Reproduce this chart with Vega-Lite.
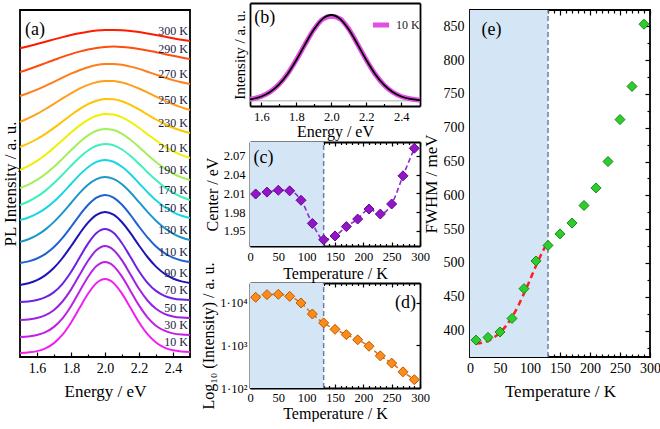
{
  "$schema": "https://vega.github.io/schema/vega-lite/v6.json",
  "autosize": {"type": "pad"},
  "padding": {"left": 0, "top": 3, "right": 0, "bottom": 0},
  "background": "white",
  "bounds": "flush",
  "spacing": 55,
  "config": {
    "font": "Liberation Serif",
    "view": {"stroke": null},
    "axis": {"labelFont": "Liberation Serif", "titleFont": "Liberation Serif", "labelColor": "black", "titleColor": "black", "titleFontWeight": "normal", "grid": false, "domain": false, "domainColor": "black", "domainWidth": 1.8, "tickColor": "black", "tickWidth": 1.2, "labelFontSize": 13, "titleFontSize": 17, "labelOverlap": false, "labelFlush": false, "labelBound": false},
    "text": {"font": "Liberation Serif", "color": "black"},
    "legend": {"labelFont": "Liberation Serif"}
  },
  "datasets": {
    "spectra": [
      {"e":1.5,"10 K":4.0,"30 K":20.0,"50 K":37.0,"70 K":55.0,"90 K":72.0,"110 K":94.0,"130 K":115.0,"150 K":137.0,"170 K":152.0,"190 K":169.0,"210 K":187.0,"230 K":210.0,"250 K":235.0,"270 K":261.0,"290 K":285.0,"300 K":308.7},
      {"e":1.55,"10 K":4.6,"30 K":20.6,"50 K":37.6,"70 K":55.6,"90 K":73.8,"110 K":95.6,"130 K":117.7,"150 K":139.5,"170 K":155.5,"190 K":172.4,"210 K":191.1,"230 K":213.6,"250 K":238.8,"270 K":264.0,"290 K":287.8,"300 K":310.8},
      {"e":1.6,"10 K":5.9,"30 K":22.0,"50 K":39.0,"70 K":57.0,"90 K":76.9,"110 K":98.5,"130 K":121.8,"150 K":143.3,"170 K":160.3,"190 K":177.1,"210 K":196.2,"230 K":218.0,"250 K":243.1,"270 K":267.3,"290 K":290.8,"300 K":313.0},
      {"e":1.65,"10 K":8.7,"30 K":24.9,"50 K":41.8,"70 K":59.8,"90 K":81.9,"110 K":103.1,"130 K":127.6,"150 K":148.6,"170 K":166.4,"190 K":183.0,"210 K":202.3,"230 K":223.2,"250 K":248.0,"270 K":271.1,"290 K":293.9,"300 K":315.3},
      {"e":1.7,"10 K":13.9,"30 K":30.1,"50 K":47.0,"70 K":64.9,"90 K":89.2,"110 K":109.9,"130 K":135.1,"150 K":155.5,"170 K":173.9,"190 K":190.2,"210 K":209.3,"230 K":229.1,"250 K":253.2,"270 K":275.2,"290 K":297.0,"300 K":317.6},
      {"e":1.75,"10 K":22.3,"30 K":38.7,"50 K":55.5,"70 K":73.2,"90 K":99.0,"110 K":119.1,"130 K":144.1,"150 K":163.9,"170 K":182.3,"190 K":198.3,"210 K":216.8,"230 K":235.5,"250 K":258.6,"270 K":279.3,"290 K":300.1,"300 K":319.9},
      {"e":1.8,"10 K":34.3,"30 K":50.8,"50 K":67.4,"70 K":85.0,"90 K":110.7,"110 K":130.0,"130 K":154.0,"150 K":173.0,"170 K":191.2,"190 K":206.8,"210 K":224.4,"230 K":242.0,"250 K":263.7,"270 K":283.3,"290 K":302.9,"300 K":322.0},
      {"e":1.85,"10 K":48.9,"30 K":65.5,"50 K":81.9,"70 K":99.3,"90 K":123.2,"110 K":141.7,"130 K":163.9,"150 K":182.1,"170 K":199.5,"190 K":214.8,"210 K":231.4,"230 K":247.9,"250 K":268.3,"270 K":286.8,"290 K":305.4,"300 K":323.8},
      {"e":1.9,"10 K":63.2,"30 K":80.0,"50 K":96.2,"70 K":113.4,"90 K":134.3,"110 K":152.0,"130 K":172.3,"150 K":189.8,"170 K":206.5,"190 K":221.6,"210 K":237.2,"230 K":252.9,"250 K":272.1,"270 K":289.8,"290 K":307.5,"300 K":325.3},
      {"e":1.95,"10 K":74.0,"30 K":90.9,"50 K":106.9,"70 K":124.0,"90 K":142.1,"110 K":159.3,"130 K":177.9,"150 K":195.1,"170 K":211.2,"190 K":226.2,"210 K":241.2,"230 K":256.3,"250 K":274.7,"270 K":291.9,"290 K":309.1,"300 K":326.4},
      {"e":2.0,"10 K":78.0,"30 K":95.0,"50 K":111.0,"70 K":128.0,"90 K":145.0,"110 K":162.0,"130 K":180.0,"150 K":197.0,"170 K":213.0,"190 K":228.0,"210 K":243.0,"230 K":258.0,"250 K":276.0,"270 K":293.0,"290 K":310.0,"300 K":327.0},
      {"e":2.05,"10 K":74.1,"30 K":91.1,"50 K":107.1,"70 K":124.2,"90 K":142.3,"110 K":159.4,"130 K":178.1,"150 K":195.3,"170 K":211.7,"190 K":227.0,"210 K":242.4,"230 K":257.7,"250 K":275.9,"270 K":293.1,"290 K":310.4,"300 K":327.1},
      {"e":2.1,"10 K":63.4,"30 K":80.4,"50 K":96.6,"70 K":113.8,"90 K":134.7,"110 K":152.2,"130 K":172.7,"150 K":190.2,"170 K":207.5,"190 K":223.2,"210 K":239.6,"230 K":255.7,"250 K":274.5,"270 K":292.2,"290 K":310.1,"300 K":326.8},
      {"e":2.15,"10 K":49.2,"30 K":66.1,"50 K":82.5,"70 K":99.9,"90 K":123.8,"110 K":142.0,"130 K":164.5,"150 K":182.7,"170 K":201.0,"190 K":217.2,"210 K":235.0,"230 K":252.1,"250 K":271.9,"270 K":290.4,"290 K":309.3,"300 K":326.0},
      {"e":2.2,"10 K":34.7,"30 K":51.6,"50 K":68.2,"70 K":85.8,"90 K":111.5,"110 K":130.4,"130 K":154.8,"150 K":173.8,"170 K":193.2,"190 K":210.0,"210 K":229.2,"230 K":247.6,"250 K":268.5,"270 K":288.1,"290 K":308.1,"300 K":324.9},
      {"e":2.25,"10 K":22.8,"30 K":39.7,"50 K":56.5,"70 K":74.2,"90 K":100.0,"110 K":119.6,"130 K":145.1,"150 K":164.9,"170 K":184.8,"190 K":202.3,"210 K":222.8,"230 K":242.5,"250 K":264.6,"270 K":285.3,"290 K":306.6,"300 K":323.5},
      {"e":2.3,"10 K":14.5,"30 K":31.3,"50 K":48.2,"70 K":66.1,"90 K":90.4,"110 K":110.5,"130 K":136.3,"150 K":156.7,"170 K":176.9,"190 K":195.0,"210 K":216.5,"230 K":237.5,"250 K":260.4,"270 K":282.4,"290 K":304.8,"300 K":322.0},
      {"e":2.35,"10 K":9.4,"30 K":26.3,"50 K":43.2,"70 K":61.2,"90 K":83.3,"110 K":103.8,"130 K":129.0,"150 K":150.0,"170 K":169.9,"190 K":188.6,"210 K":210.7,"230 K":233.0,"250 K":256.4,"270 K":279.5,"290 K":303.0,"300 K":320.4},
      {"e":2.4,"10 K":6.7,"30 K":23.6,"50 K":40.6,"70 K":58.6,"90 K":78.5,"110 K":99.3,"130 K":123.4,"150 K":144.9,"170 K":164.3,"190 K":183.5,"210 K":205.8,"230 K":229.2,"250 K":252.7,"270 K":276.9,"290 K":301.2,"300 K":318.8},
      {"e":2.45,"10 K":5.5,"30 K":22.4,"50 K":39.4,"70 K":57.4,"90 K":75.6,"110 K":96.5,"130 K":119.5,"150 K":141.3,"170 K":160.0,"190 K":179.6,"210 K":201.9,"230 K":226.2,"250 K":249.6,"270 K":274.8,"290 K":299.5,"300 K":317.3},
      {"e":2.5,"10 K":5.0,"30 K":22.0,"50 K":39.0,"70 K":57.0,"90 K":74.0,"110 K":95.0,"130 K":117.0,"150 K":139.0,"170 K":157.0,"190 K":177.0,"210 K":199.0,"230 K":224.0,"250 K":247.0,"270 K":273.0,"290 K":298.0,"300 K":316.0}
    ],
    "b": [
      {"e":1.535,"f":0.018,"d":0.02},
      {"e":1.55,"f":0.023,"d":0.025},
      {"e":1.6,"f":0.051,"d":0.053},
      {"e":1.65,"f":0.103,"d":0.105},
      {"e":1.7,"f":0.188,"d":0.19},
      {"e":1.75,"f":0.313,"d":0.315},
      {"e":1.8,"f":0.475,"d":0.478},
      {"e":1.85,"f":0.658,"d":0.66},
      {"e":1.9,"f":0.83,"d":0.83},
      {"e":1.95,"f":0.955,"d":0.95},
      {"e":2.0,"f":1.0,"d":0.985},
      {"e":2.05,"f":0.955,"d":0.955},
      {"e":2.1,"f":0.83,"d":0.835},
      {"e":2.15,"f":0.658,"d":0.66},
      {"e":2.2,"f":0.475,"d":0.476},
      {"e":2.25,"f":0.313,"d":0.313},
      {"e":2.3,"f":0.188,"d":0.188},
      {"e":2.35,"f":0.103,"d":0.103},
      {"e":2.4,"f":0.051,"d":0.051},
      {"e":2.45,"f":0.023,"d":0.024},
      {"e":2.5,"f":0.0096,"d":0.01},
      {"e":2.507,"f":0.0084,"d":0.009}
    ],
    "temp": [
      {"T":10,"center":2.009,"intensity":13600,"fwhm":386},
      {"T":30,"center":2.012,"intensity":15700,"fwhm":390},
      {"T":50,"center":2.015,"intensity":16000,"fwhm":398},
      {"T":70,"center":2.014,"intensity":14300,"fwhm":418},
      {"T":90,"center":1.999,"intensity":10000,"fwhm":462},
      {"T":110,"center":1.962,"intensity":5500,"fwhm":503},
      {"T":130,"center":1.936,"intensity":3400,"fwhm":526},
      {"T":150,"center":1.942,"intensity":2400,"fwhm":543},
      {"T":170,"center":1.957,"intensity":1800,"fwhm":559},
      {"T":190,"center":1.969,"intensity":1360,"fwhm":585},
      {"T":210,"center":1.985,"intensity":960,"fwhm":611},
      {"T":230,"center":1.977,"intensity":570,"fwhm":650},
      {"T":250,"center":1.993,"intensity":385,"fwhm":712},
      {"T":270,"center":2.038,"intensity":240,"fwhm":761},
      {"T":290,"center":2.082,"intensity":157,"fwhm":853}
    ],
    "fit": [
      {"T":10,"fit":381},{"T":20,"fit":382},{"T":30,"fit":385},{"T":40,"fit":390},{"T":50,"fit":397},{"T":60,"fit":407},{"T":70,"fit":420},{"T":80,"fit":436},{"T":90,"fit":455},{"T":100,"fit":475},{"T":110,"fit":496},{"T":120,"fit":515},{"T":130,"fit":532}
    ]
  },
  "hconcat": [
    {
      "width": 170, "height": 347,
      "view": {"stroke": "black", "strokeWidth": 1.8},
      "layer": [
        {
          "data": {"name": "spectra"},
          "transform": [{"fold": ["10 K","30 K","50 K","70 K","90 K","110 K","130 K","150 K","170 K","190 K","210 K","230 K","250 K","270 K","290 K","300 K"], "as": ["T","v"]}],
          "mark": {"type": "line", "strokeWidth": 2, "interpolate": "monotone"},
          "encoding": {
            "x": {"field": "e", "type": "quantitative", "scale": {"domain": [1.5,2.5], "nice": false, "zero": false},
                  "axis": {"orient": "bottom", "values": [1.6,1.8,2.0,2.2,2.4], "format": ".1f", "tickSize": -5, "labelPadding": 9, "labelFontSize": 14, "title": "Energy / eV", "titlePadding": 8, "titleFontSize": 17}},
            "y": {"field": "v", "type": "quantitative", "scale": {"domain": [0,347], "nice": false, "zero": false},
                  "axis": {"orient": "left", "labels": false, "ticks": false, "title": "PL Intensity / a. u.", "titlePadding": 1, "titleFontSize": 17}},
            "color": {"field": "T", "type": "nominal", "scale": {"domain": ["10 K","30 K","50 K","70 K","90 K","110 K","130 K","150 K","170 K","190 K","210 K","230 K","250 K","270 K","290 K","300 K"], "range": ["#f21ff2","#c21fe6","#9a22e0","#6c22e2","#1c14b8","#1f62d2","#1b97c9","#18d6e2","#3ff0bd","#a2ef5a","#eef000","#ffc400","#ffa01c","#ff7d1a","#ff4d0f","#ff1a00"]}, "legend": null}
          }
        },
        {
          "data": {"name": "spectra"},
          "transform": [{"fold": ["10 K","30 K","50 K","70 K","90 K","110 K","130 K","150 K","170 K","190 K","210 K","230 K","250 K","270 K","290 K","300 K"], "as": ["T","v"]}, {"filter": "datum.e == 2.5"}],
          "mark": {"type": "text", "align": "right", "baseline": "middle", "dx": -2, "dy": -10, "fontSize": 12, "color": "#1a1a40"},
          "encoding": {
            "x": {"field": "e", "type": "quantitative", "scale": {"domain": [1.5,2.5], "nice": false, "zero": false},
                  "axis": {"orient": "bottom", "values": [1.7,1.9,2.1,2.3], "labels": false, "tickSize": -3, "title": null}},
            "y": {"field": "v", "type": "quantitative", "scale": {"domain": [0,347], "nice": false, "zero": false}, "axis": null},
            "text": {"field": "T"}
          }
        },
        {
          "data": {"values": [{}]},
          "mark": {"type": "text", "align": "left", "baseline": "middle", "fontSize": 18},
          "encoding": {
            "x": {"datum": 1.53, "type": "quantitative", "scale": {"domain": [1.5,2.5], "nice": false, "zero": false}, "axis": null},
            "y": {"datum": 327, "type": "quantitative", "scale": {"domain": [0,347], "nice": false, "zero": false}, "axis": null},
            "text": {"value": "(a)"}
          }
        }
      ],
      "resolve": {"axis": {"x": "independent", "y": "independent"}}
    },
    {
      "width": 170, "height": 378,
      "layer": [
        {
          "layer": [
            {
              "data": {"values": [{}]},
              "mark": {"type": "rule", "color": "#c8c8c8", "strokeWidth": 1.5},
              "encoding": {
                "x": {"datum": 1.535, "type": "quantitative", "scale": {"domain": [1.535,2.507], "range": [5,175], "nice": false, "zero": false},
                      "axis": {"orient": "bottom", "offset": -282, "values": [1.7,1.9,2.1,2.3], "labels": false, "tickSize": -2.5, "title": null}},
                "x2": {"datum": 2.507},
                "y": {"datum": 0, "type": "quantitative", "scale": {"domain": [-0.06,1.14], "range": [96,-7], "nice": false, "zero": false},
                      "axis": {"orient": "right", "offset": 5, "domain": true, "labels": false, "ticks": false, "title": null}}
              }
            },
            {
              "data": {"name": "b"},
              "mark": {"type": "line", "strokeWidth": 5, "interpolate": "monotone"},
              "encoding": {
                "x": {"field": "e", "type": "quantitative", "scale": {"domain": [1.535,2.507], "range": [5,175], "nice": false, "zero": false},
                      "axis": {"orient": "bottom", "offset": -282, "domain": true, "values": [1.6,1.8,2.0,2.2,2.4], "format": ".1f", "tickSize": -4, "labelPadding": 8, "labelFontSize": 12.5, "title": "Energy / eV", "titleFontSize": 16, "titlePadding": 1}},
                "y": {"field": "d", "type": "quantitative", "scale": {"domain": [-0.06,1.14], "range": [96,-7], "nice": false, "zero": false},
                      "axis": {"orient": "left", "offset": -5, "domain": true, "labels": false, "ticks": false, "title": "Intensity / a. u.", "titleFontSize": 15, "titlePadding": 3}},
                "color": {"datum": "10 K", "type": "nominal", "scale": {"domain": ["10 K"], "range": ["#e14ee1"]},
                          "legend": {"orient": "none", "legendX": 125, "legendY": 4, "title": null, "symbolType": "stroke", "symbolStrokeWidth": 5, "symbolSize": 260, "labelFontSize": 12, "labelColor": "#222222", "padding": 0}}
              }
            },
            {
              "data": {"name": "b"},
              "mark": {"type": "line", "strokeWidth": 1.8, "color": "black", "interpolate": "monotone"},
              "encoding": {
                "x": {"field": "e", "type": "quantitative", "scale": {"domain": [1.535,2.507], "range": [5,175], "nice": false, "zero": false},
                      "axis": {"orient": "top", "offset": 7, "domain": true, "labels": false, "ticks": false, "title": null}},
                "y": {"field": "f", "type": "quantitative", "scale": {"domain": [-0.06,1.14], "range": [96,-7], "nice": false, "zero": false}, "axis": null}
              }
            },
            {
              "data": {"values": [{}]},
              "mark": {"type": "text", "align": "left", "baseline": "middle", "fontSize": 18},
              "encoding": {
                "x": {"datum": 1.56, "type": "quantitative", "scale": {"domain": [1.535,2.507], "range": [5,175], "nice": false, "zero": false}, "axis": null},
                "y": {"datum": 0.97, "type": "quantitative", "scale": {"domain": [-0.06,1.14], "range": [96,-7], "nice": false, "zero": false}, "axis": null},
                "text": {"value": "(b)"}
              }
            }
          ],
          "resolve": {"axis": {"x": "independent", "y": "independent"}}
        },
        {
          "layer": [
            {
              "data": {"values": [{}]},
              "mark": {"type": "rect", "color": "#d4e6f6"},
              "encoding": {
                "x": {"datum": 0, "type": "quantitative", "scale": {"domain": [0,300], "range": [5,175], "nice": false, "zero": false},
                      "axis": {"orient": "bottom", "offset": -142, "values": [10,20,30,40,60,70,80,90,110,120,130,140,160,170,180,190,210,220,230,240,260,270,280,290], "labels": false, "tickSize": -2.5, "title": null}},
                "x2": {"datum": 130},
                "y": {"datum": 1.926, "type": "quantitative", "scale": {"domain": [1.926,2.092], "range": [236,132], "nice": false, "zero": false}, "axis": null},
                "y2": {"datum": 2.092}
              }
            },
            {
              "data": {"values": [{}]},
              "mark": {"type": "rule", "color": "#6f7fa3", "strokeDash": [5,3], "strokeWidth": 1.5},
              "encoding": {
                "x": {"datum": 130, "type": "quantitative", "scale": {"domain": [0,300], "range": [5,175], "nice": false, "zero": false},
                      "axis": {"orient": "top", "offset": -132, "values": [10,20,30,40,60,70,80,90,110,120,130,140,160,170,180,190,210,220,230,240,260,270,280,290], "labels": false, "tickSize": -2.5, "title": null}},
                "y": {"datum": 1.926, "type": "quantitative", "scale": {"domain": [1.926,2.092], "range": [236,132], "nice": false, "zero": false}, "axis": null},
                "y2": {"datum": 2.092}
              }
            },
            {
              "data": {"name": "temp"},
              "mark": {"type": "line", "color": "#8e2bd0", "strokeWidth": 1.6, "strokeDash": [5,3], "interpolate": "monotone"},
              "encoding": {
                "x": {"field": "T", "type": "quantitative", "scale": {"domain": [0,300], "range": [5,175], "nice": false, "zero": false},
                      "axis": {"orient": "top", "offset": -132, "domain": true, "values": [0,50,100,150,200,250,300], "labels": false, "tickSize": -4, "title": null}},
                "y": {"field": "center", "type": "quantitative", "scale": {"domain": [1.926,2.092], "range": [236,132], "nice": false, "zero": false},
                      "axis": {"orient": "right", "offset": 5, "domain": true, "values": [1.95,1.98,2.01,2.04,2.07], "labels": false, "tickSize": -4, "title": null}}
              }
            },
            {
              "data": {"name": "temp"},
              "mark": {"type": "point", "shape": "diamond", "filled": true, "size": 100, "fill": "#9414c8", "stroke": "#5e0a8c", "strokeWidth": 1, "opacity": 1},
              "encoding": {
                "x": {"field": "T", "type": "quantitative", "scale": {"domain": [0,300], "range": [5,175], "nice": false, "zero": false},
                      "axis": {"orient": "bottom", "offset": -142, "domain": true, "values": [0,50,100,150,200,250,300], "tickSize": -4, "labelPadding": 8, "labelFontSize": 12.5, "title": "Temperature / K", "titleFontSize": 16, "titlePadding": 3}},
                "y": {"field": "center", "type": "quantitative", "scale": {"domain": [1.926,2.092], "range": [236,132], "nice": false, "zero": false},
                      "axis": {"orient": "left", "offset": -5, "domain": true, "values": [1.95,1.98,2.01,2.04,2.07], "format": ".2f", "tickSize": -4, "labelPadding": 9, "labelFontSize": 12.5, "title": "Center / eV", "titleFontSize": 16, "titlePadding": 3}}
              }
            },
            {
              "data": {"values": [{}]},
              "mark": {"type": "text", "align": "left", "baseline": "middle", "fontSize": 18},
              "encoding": {
                "x": {"datum": 6, "type": "quantitative", "scale": {"domain": [0,300], "range": [5,175], "nice": false, "zero": false}, "axis": null},
                "y": {"datum": 2.066, "type": "quantitative", "scale": {"domain": [1.926,2.092], "range": [236,132], "nice": false, "zero": false}, "axis": null},
                "text": {"value": "(c)"}
              }
            }
          ],
          "resolve": {"axis": {"x": "independent", "y": "independent"}}
        },
        {
          "layer": [
            {
              "data": {"values": [{}]},
              "mark": {"type": "rect", "color": "#d4e6f6"},
              "encoding": {
                "x": {"datum": 0, "type": "quantitative", "scale": {"domain": [0,300], "range": [5,175], "nice": false, "zero": false},
                      "axis": {"orient": "bottom", "offset": 0, "values": [10,20,30,40,60,70,80,90,110,120,130,140,160,170,180,190,210,220,230,240,260,270,280,290], "labels": false, "tickSize": -2.5, "title": null}},
                "x2": {"datum": 130},
                "y": {"datum": 100, "type": "quantitative", "scale": {"type": "log", "domain": [100,29500], "range": [378,273], "nice": false}, "axis": null},
                "y2": {"datum": 29500}
              }
            },
            {
              "data": {"values": [{}]},
              "mark": {"type": "rule", "color": "#6f7fa3", "strokeDash": [5,3], "strokeWidth": 1.5},
              "encoding": {
                "x": {"datum": 130, "type": "quantitative", "scale": {"domain": [0,300], "range": [5,175], "nice": false, "zero": false},
                      "axis": {"orient": "top", "offset": -273, "values": [10,20,30,40,60,70,80,90,110,120,130,140,160,170,180,190,210,220,230,240,260,270,280,290], "labels": false, "tickSize": -2.5, "title": null}},
                "y": {"datum": 100, "type": "quantitative", "scale": {"type": "log", "domain": [100,29500], "range": [378,273], "nice": false}, "axis": null},
                "y2": {"datum": 29500}
              }
            },
            {
              "data": {"name": "temp"},
              "mark": {"type": "line", "color": "#e0701a", "strokeWidth": 1.6, "strokeDash": [5,3], "interpolate": "monotone"},
              "encoding": {
                "x": {"field": "T", "type": "quantitative", "scale": {"domain": [0,300], "range": [5,175], "nice": false, "zero": false},
                      "axis": {"orient": "top", "offset": -273, "domain": true, "values": [0,50,100,150,200,250,300], "labels": false, "tickSize": -4, "title": null}},
                "y": {"field": "intensity", "type": "quantitative", "scale": {"type": "log", "domain": [100,29500], "range": [378,273], "nice": false},
                      "axis": {"orient": "right", "offset": 5, "domain": true, "values": [100,1000,10000], "labels": false, "tickSize": -4, "title": null}}
              }
            },
            {
              "data": {"name": "temp"},
              "mark": {"type": "point", "shape": "diamond", "filled": true, "size": 100, "fill": "#ff8c1a", "stroke": "#b85a00", "strokeWidth": 1, "opacity": 1},
              "encoding": {
                "x": {"field": "T", "type": "quantitative", "scale": {"domain": [0,300], "range": [5,175], "nice": false, "zero": false},
                      "axis": {"orient": "bottom", "offset": 0, "domain": true, "values": [0,50,100,150,200,250,300], "tickSize": -4, "labelPadding": 7, "labelFontSize": 12.5, "title": "Temperature / K", "titleFontSize": 16, "titlePadding": 2}},
                "y": {"field": "intensity", "type": "quantitative", "scale": {"type": "log", "domain": [100,29500], "range": [378,273], "nice": false},
                      "axis": {"orient": "left", "offset": -5, "domain": true, "values": [100,1000,10000], "labelExpr": "datum.value >= 9999 ? '1·10⁴' : datum.value >= 999 ? '1·10³' : '1·10²'", "tickSize": -4, "labelPadding": 7, "labelFontSize": 12.5, "title": "Log₁₀ (Intensity) / a. u.", "titleFontSize": 16, "titlePadding": 3}}
              }
            },
            {
              "data": {"values": [{}]},
              "mark": {"type": "text", "align": "right", "baseline": "middle", "fontSize": 18},
              "encoding": {
                "x": {"datum": 293, "type": "quantitative", "scale": {"domain": [0,300], "range": [5,175], "nice": false, "zero": false}, "axis": null},
                "y": {"datum": 10000, "type": "quantitative", "scale": {"type": "log", "domain": [100,29500], "range": [378,273], "nice": false}, "axis": null},
                "text": {"value": "(d)"}
              }
            }
          ],
          "resolve": {"axis": {"x": "independent", "y": "independent"}}
        }
      ],
      "resolve": {"scale": {"x": "independent", "y": "independent", "color": "independent"}, "axis": {"x": "independent", "y": "independent"}}
    },
    {
      "width": 180, "height": 347,
      "view": {"stroke": "black", "strokeWidth": 1.8},
      "layer": [
        {
          "data": {"values": [{}]},
          "mark": {"type": "rect", "color": "#d4e6f6"},
          "encoding": {
            "x": {"datum": 0, "type": "quantitative", "scale": {"domain": [0,300], "nice": false, "zero": false},
                  "axis": {"orient": "bottom", "values": [10,20,30,40,60,70,80,90,110,120,130,140,160,170,180,190,210,220,230,240,260,270,280,290], "labels": false, "tickSize": -3, "title": null}},
            "x2": {"datum": 130},
            "y": {"datum": 361, "type": "quantitative", "scale": {"domain": [361,874], "nice": false, "zero": false},
                  "axis": {"orient": "left", "values": [375,425,475,525,575,625,675,725,775,825], "labels": false, "tickSize": -3, "title": null}},
            "y2": {"datum": 874}
          }
        },
        {
          "data": {"values": [{}]},
          "mark": {"type": "rule", "color": "#6f7fa3", "strokeDash": [5,3], "strokeWidth": 1.5},
          "encoding": {
            "x": {"datum": 130, "type": "quantitative", "scale": {"domain": [0,300], "nice": false, "zero": false},
                  "axis": {"orient": "top", "values": [10,20,30,40,60,70,80,90,110,120,130,140,160,170,180,190,210,220,230,240,260,270,280,290], "labels": false, "tickSize": -3, "title": null}},
            "y": {"datum": 361, "type": "quantitative", "scale": {"domain": [361,874], "nice": false, "zero": false},
                  "axis": {"orient": "right", "values": [375,425,475,525,575,625,675,725,775,825], "labels": false, "tickSize": -3, "title": null}},
            "y2": {"datum": 874}
          }
        },
        {
          "data": {"name": "fit"},
          "mark": {"type": "line", "color": "#ff1e1e", "strokeWidth": 2.5, "strokeDash": [6,4], "interpolate": "monotone"},
          "encoding": {
            "x": {"field": "T", "type": "quantitative", "scale": {"domain": [0,300], "nice": false, "zero": false},
                  "axis": {"orient": "top", "values": [0,50,100,150,200,250,300], "labels": false, "tickSize": -5, "title": null}},
            "y": {"field": "fit", "type": "quantitative", "scale": {"domain": [361,874], "nice": false, "zero": false},
                  "axis": {"orient": "right", "values": [400,450,500,550,600,650,700,750,800,850], "labels": false, "tickSize": -5, "title": null}}
          }
        },
        {
          "data": {"name": "temp"},
          "mark": {"type": "point", "shape": "diamond", "filled": true, "size": 100, "fill": "#2ecc2e", "stroke": "#128a12", "strokeWidth": 1, "opacity": 1},
          "encoding": {
            "x": {"field": "T", "type": "quantitative", "scale": {"domain": [0,300], "nice": false, "zero": false},
                  "axis": {"orient": "bottom", "values": [0,50,100,150,200,250,300], "labelDx": {"expr": "datum.value == 300 ? -8 : 0"}, "tickSize": -5, "labelPadding": 9, "labelFontSize": 14, "title": "Temperature / K", "titlePadding": 8, "titleFontSize": 17}},
            "y": {"field": "fwhm", "type": "quantitative", "scale": {"domain": [361,874], "nice": false, "zero": false},
                  "axis": {"orient": "left", "values": [400,450,500,550,600,650,700,750,800,850], "tickSize": -5, "labelPadding": 11, "labelFontSize": 14, "title": "FWHM / meV", "titlePadding": 3, "titleFontSize": 17}}
          }
        },
        {
          "data": {"values": [{}]},
          "mark": {"type": "text", "align": "left", "baseline": "middle", "fontSize": 18},
          "encoding": {
            "x": {"datum": 19, "type": "quantitative", "scale": {"domain": [0,300], "nice": false, "zero": false}, "axis": null},
            "y": {"datum": 845, "type": "quantitative", "scale": {"domain": [361,874], "nice": false, "zero": false}, "axis": null},
            "text": {"value": "(e)"}
          }
        }
      ],
      "resolve": {"axis": {"x": "independent", "y": "independent"}}
    }
  ]
}
